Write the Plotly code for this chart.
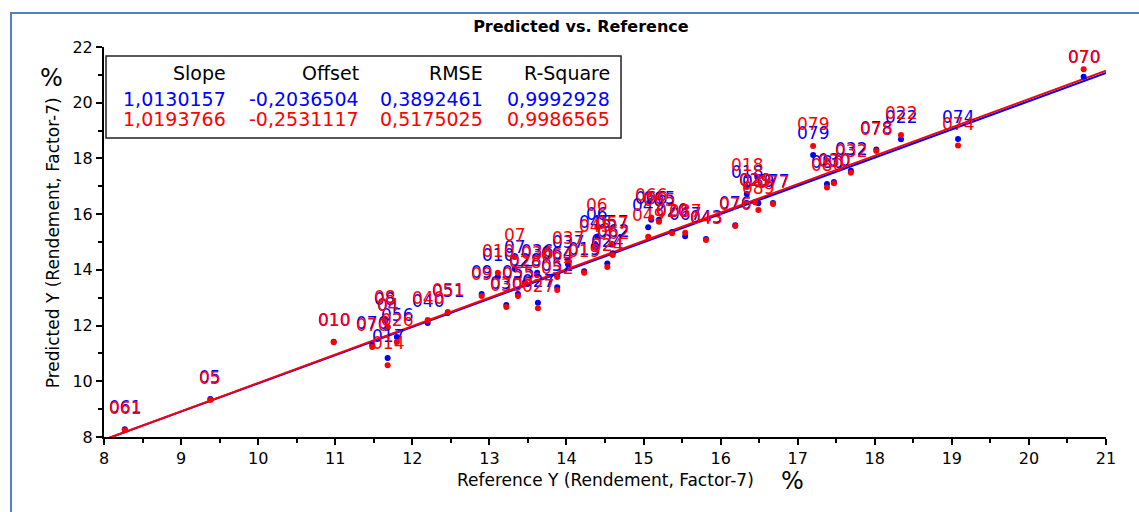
import numpy as np
import plotly.graph_objects as go

# Reference values (x) and predicted values for the two model series
ref_y = [8.27, 9.38, 10.98, 11.48, 11.68, 11.80, 11.68, 11.65, 12.20, 12.46,
         12.90, 13.22, 13.37, 13.63, 13.88, 13.11, 13.33, 13.62, 13.46, 13.88,
         14.02, 14.23, 14.53, 14.60, 14.59, 14.37, 14.40, 15.06, 15.10, 15.20,
         15.37, 15.54, 15.81, 16.19, 16.34, 16.45, 16.49, 16.68, 17.20, 17.38,
         17.47, 17.69, 18.02, 18.34, 19.08, 20.71]
pred_blue = [8.28, 9.36, 11.42, 11.30, 10.84, 11.59, 11.95, 12.16, 12.09, 12.45,
             13.13, 12.74, 13.13, 12.82, 13.38, 13.75, 14.03, 13.90, 13.55, 13.80,
             14.20, 13.95, 14.23, 14.60, 14.93, 14.93, 15.20, 15.53, 15.80, 15.80,
             15.36, 15.21, 15.11, 15.60, 16.72, 16.43, 16.39, 16.40, 18.12, 17.08,
             17.15, 17.56, 18.32, 18.69, 18.70, 20.93]
pred_red = [8.24, 9.33, 11.40, 11.23, 10.58, 11.41, 11.95, 12.24, 12.20, 12.49,
            13.06, 12.67, 13.06, 12.62, 13.28, 13.90, 14.46, 13.81, 13.49, 13.74,
            14.35, 13.90, 14.10, 14.53, 14.90, 14.80, 15.54, 15.19, 15.88, 15.73,
            15.31, 15.33, 15.07, 15.57, 16.97, 16.43, 16.15, 16.36, 18.45, 16.96,
            17.11, 17.49, 18.27, 18.84, 18.46, 21.20]
labels_blue = ["061", "05", "010", "070", "017", "056", "04", "08", "040", "051",
               "09", "030", "055", "027", "052", "010", "07", "036", "028", "064",
               "037", "019", "024", "062", "057", "045", "06", "049", "066", "065",
               "020", "067", "043", "076", "018", "029", "089", "077", "079", "080",
               "030", "032", "078", "022", "074", "070"]
labels_red = ["061", "05", "010", "070", "014", "026", "04", "08", "040", "051",
              "09", "030", "055", "027", "052", "010", "07", "036", "028", "064",
              "037", "019", "024", "062", "057", "045", "06", "049", "066", "065",
              "020", "087", "043", "076", "018", "029", "089", "077", "079", "080",
              "030", "032", "078", "022", "074", "070"]

# Regression statistics for each series: [blue, red]
slope = [1.0130157, 1.0193766]
offset = [-0.2036504, -0.2531117]
rmse = [0.3892461, 0.5175025]
r_square = [0.9992928, 0.9986565]

BLUE = "#0000ff"
RED = "#ff0000"
FONT = "DejaVu Sans"

X_RANGE = [8, 21]
Y_RANGE = [8, 22]
MARGIN = dict(l=104, r=33, t=47, b=75)
WIDTH, HEIGHT = 1139, 512
plot_h = HEIGHT - MARGIN["t"] - MARGIN["b"]
px_per_y = plot_h / (Y_RANGE[1] - Y_RANGE[0])

fig = go.Figure()

# Regression lines across the x range
x_line = np.array([8.0, 21.0])
for i, col in enumerate([BLUE, RED]):
    fig.add_trace(go.Scatter(x=x_line, y=slope[i] * x_line + offset[i], mode="lines",
                             line=dict(color=col, width=2), showlegend=False,
                             hoverinfo="skip"))

# Sample points
fig.add_trace(go.Scatter(x=ref_y, y=pred_blue, mode="markers",
                         marker=dict(color=BLUE, size=6), showlegend=False))
fig.add_trace(go.Scatter(x=ref_y, y=pred_red, mode="markers",
                         marker=dict(color=RED, size=6), showlegend=False))

annotations = []
# Sample labels above each point, kept at least 10 px below the top of the plot area
for ys, labs, col in [(pred_blue, labels_blue, BLUE), (pred_red, labels_red, RED)]:
    for xv, yv, lab in zip(ref_y, ys, labs):
        room = (Y_RANGE[1] - yv) * px_per_y - 10
        annotations.append(dict(x=xv, y=yv, xref="x", yref="y", text=lab,
                                showarrow=False, xanchor="center", yanchor="middle",
                                yshift=min(22, room),
                                font=dict(family=FONT, size=17, color=col)))


def fmt(v):
    return f"{v:.7f}".replace(".", ",")


# Statistics table
col_x = [0.1238, 0.2565, 0.3802, 0.507]
headers = ["Slope", "Offset", "RMSE", "R-Square"]
row_y = [0.9333, 0.8667, 0.8154]
for cx, h in zip(col_x, headers):
    annotations.append(dict(x=cx, y=row_y[0], xref="paper", yref="paper", text=h,
                            showarrow=False, xanchor="right", yanchor="middle",
                            font=dict(family=FONT, size=19, color="black")))
for i, col in enumerate([BLUE, RED]):
    vals = [slope[i], offset[i], rmse[i], r_square[i]]
    for cx, v in zip(col_x, vals):
        annotations.append(dict(x=cx, y=row_y[i + 1], xref="paper", yref="paper",
                                text=fmt(v), showarrow=False, xanchor="right",
                                yanchor="middle",
                                font=dict(family=FONT, size=19, color=col)))

# Axis titles and unit marks
annotations += [
    dict(x=0.5, y=-0.1103, xref="paper", yref="paper",
         text="Reference Y (Rendement, Factor-7)", showarrow=False,
         xanchor="center", yanchor="middle", font=dict(family=FONT, size=17, color="black")),
    dict(x=-0.051, y=0.499, xref="paper", yref="paper",
         text="Predicted Y (Rendement, Factor-7)", showarrow=False, textangle=-90,
         xanchor="center", yanchor="middle", font=dict(family=FONT, size=17, color="black")),
    dict(x=0.6876, y=-0.1128, xref="paper", yref="paper", text="%", showarrow=False,
         xanchor="center", yanchor="middle", font=dict(family=FONT, size=24, color="black")),
    dict(x=-0.0519, y=0.9205, xref="paper", yref="paper", text="%", showarrow=False,
         xanchor="center", yanchor="middle", font=dict(family=FONT, size=24, color="black")),
]

shapes = [
    # outer page frame
    dict(type="rect", xref="paper", yref="paper", x0=-0.0928, x1=1.2, y0=-0.5, y1=1.0872,
         line=dict(color="#4f81bd", width=2), fillcolor="rgba(0,0,0,0)", layer="below"),
    # statistics box
    dict(type="rect", xref="paper", yref="paper", x0=0.002, x1=0.516, y0=0.7667, y1=0.9769,
         line=dict(color="#222222", width=1.5), fillcolor="white", layer="below"),
]

axis_common = dict(showgrid=False, zeroline=False, showline=True, linecolor="black",
                   linewidth=2, ticks="outside", ticklen=6, tickwidth=1.5,
                   tickcolor="black", tickfont=dict(family=FONT, size=16, color="black"))

fig.update_layout(
    width=WIDTH, height=HEIGHT,
    margin=dict(**MARGIN, autoexpand=False),
    paper_bgcolor="white", plot_bgcolor="white",
    title=dict(text="Predicted vs. Reference", x=0.51, xref="container", xanchor="center",
               y=0.949, yref="container", yanchor="middle",
               font=dict(family=FONT, size=16, color="black", weight="bold")),
    xaxis=dict(range=X_RANGE, dtick=1, tick0=8,
               minor=dict(dtick=0.5, ticks="outside", ticklen=4, tickcolor="black",
                          showgrid=False),
               **axis_common),
    yaxis=dict(range=Y_RANGE, dtick=2, tick0=8,
               minor=dict(dtick=1, ticks="outside", ticklen=4, tickcolor="black",
                          showgrid=False),
               **axis_common),
    annotations=annotations,
    shapes=shapes,
    showlegend=False,
)

fig.write_html("out.html")
